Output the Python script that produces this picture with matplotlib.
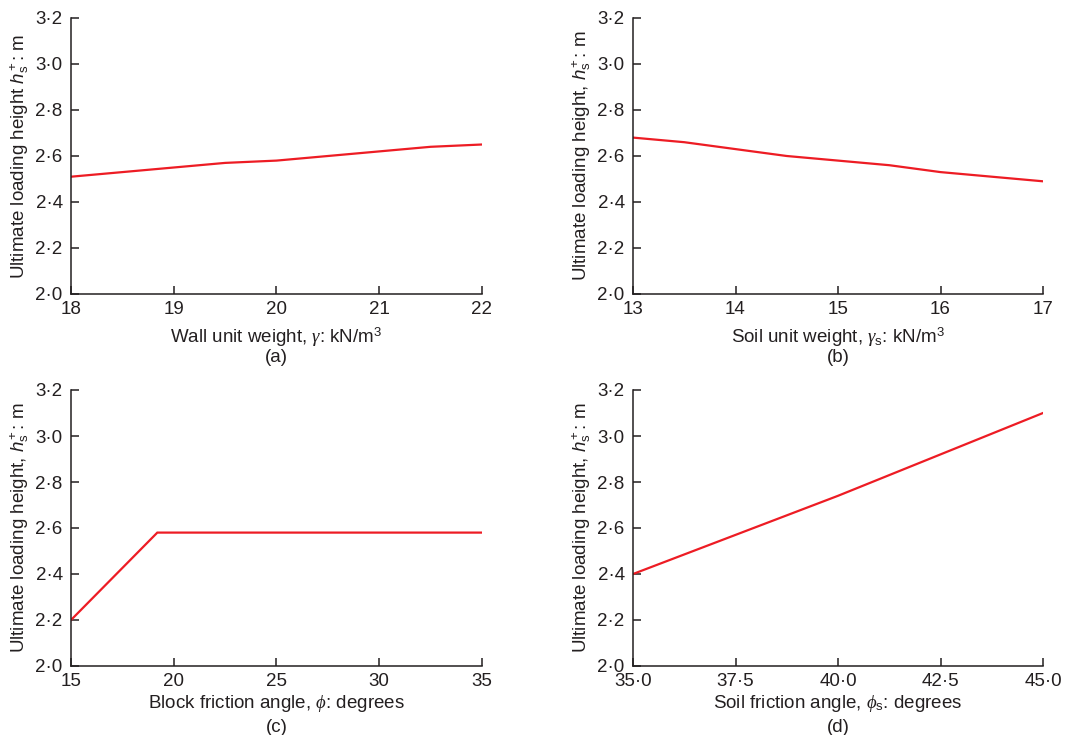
import matplotlib
matplotlib.use("Agg")
import matplotlib.pyplot as plt
from matplotlib.ticker import FuncFormatter

plt.rcParams['font.family'] = ['Liberation Sans', 'DejaVu Sans']
plt.rcParams['mathtext.fontset'] = 'custom'
plt.rcParams['mathtext.rm'] = 'Liberation Sans'
plt.rcParams['mathtext.it'] = 'Liberation Serif:italic'
plt.rcParams['mathtext.sf'] = 'Liberation Sans:italic'

# (a) wall unit weight
wall_gamma = [18, 19, 19.5, 20, 20.5, 21, 21.5, 22]
wall_h = [2.51, 2.55, 2.57, 2.58, 2.60, 2.62, 2.64, 2.65]
# (b) soil unit weight
soil_gamma = [13, 13.5, 14, 14.5, 15, 15.5, 16, 17]
soil_h = [2.68, 2.66, 2.63, 2.60, 2.58, 2.56, 2.53, 2.49]
# (c) block friction angle
block_phi = [15, 19.2, 35]
block_h = [2.20, 2.58, 2.58]
# (d) soil friction angle
soil_phi = [35, 37.5, 40, 42.5, 45]
soil_phi_h = [2.40, 2.57, 2.74, 2.92, 3.10]

x_ticks = [[18, 19, 20, 21, 22], [13, 14, 15, 16, 17],
           [15, 20, 25, 30, 35], [35.0, 37.5, 40.0, 42.5, 45.0]]
y_ticks = [2.0, 2.2, 2.4, 2.6, 2.8, 3.0, 3.2]

xlabels = [r"Wall unit weight, $\gamma$: kN/m$^3$",
           r"Soil unit weight, $\gamma_\mathrm{s}$: kN/m$^3$",
           r"Block friction angle, $\phi$: degrees",
           r"Soil friction angle, $\phi_\mathrm{s}$: degrees"]
ylabels = [r"Ultimate loading height $\mathsf{h}_\mathrm{s}^+$: m",
           r"Ultimate loading height, $\mathsf{h}_\mathrm{s}^+$: m",
           r"Ultimate loading height, $\mathsf{h}_\mathrm{s}^+$: m",
           r"Ultimate loading height, $\mathsf{h}_\mathrm{s}^+$: m"]
captions = ["(a)", "(b)", "(c)", "(d)"]
series = [(wall_gamma, wall_h), (soil_gamma, soil_h),
          (block_phi, block_h), (soil_phi, soil_phi_h)]

W, H = 1065, 735
fig = plt.figure(figsize=(W / 100, H / 100), dpi=100)
boxes = [(71, 18, 482, 294), (633, 18, 1043, 294),
         (71, 390, 482, 666), (633, 390, 1043, 666)]
# pixel y of x-label centre and caption centre below each axis
label_off = [(43, 64), (43, 64), (37, 61), (37, 61)]
ink = '#231f20'
fs = 13.5

def dot_fmt(dec):
    return FuncFormatter(lambda v, p: (("%." + str(dec) + "f") % v).replace('.', '\u00b7'))

for i, (x0, y0, x1, y1) in enumerate(boxes):
    ax = fig.add_axes([x0 / W, 1 - y1 / H, (x1 - x0) / W, (y1 - y0) / H])
    xs, ys = series[i]
    ax.plot(xs, ys, color='#ed1c24', lw=1.6, solid_joinstyle='miter')
    ax.set_xlim(x_ticks[i][0], x_ticks[i][-1])
    ax.set_ylim(2.0, 3.2)
    ax.set_xticks(x_ticks[i])
    ax.set_yticks(y_ticks)
    ax.xaxis.set_major_formatter(dot_fmt(1 if i == 3 else 0))
    ax.yaxis.set_major_formatter(dot_fmt(1))
    for s in ['top', 'right']:
        ax.spines[s].set_visible(False)
    for s in ['left', 'bottom']:
        ax.spines[s].set_color(ink)
        ax.spines[s].set_linewidth(1.1)
    ax.tick_params(direction='in', length=6, width=1.1, color=ink,
                   labelcolor=ink, labelsize=fs)
    ax.tick_params(axis='x', pad=5)
    ax.tick_params(axis='y', pad=6)
    ax.set_ylabel(ylabels[i], fontsize=fs, color=ink, labelpad=3)
    xc = (x0 + x1) / 2 / W
    fig.text(xc, 1 - (y1 + label_off[i][0]) / H, xlabels[i], ha='center',
             va='center', fontsize=fs, color=ink)
    fig.text(xc, 1 - (y1 + label_off[i][1]) / H, captions[i], ha='center',
             va='center', fontsize=fs, color=ink)
    ax.patch.set_visible(False)

fig.savefig("out.png", dpi=100)
